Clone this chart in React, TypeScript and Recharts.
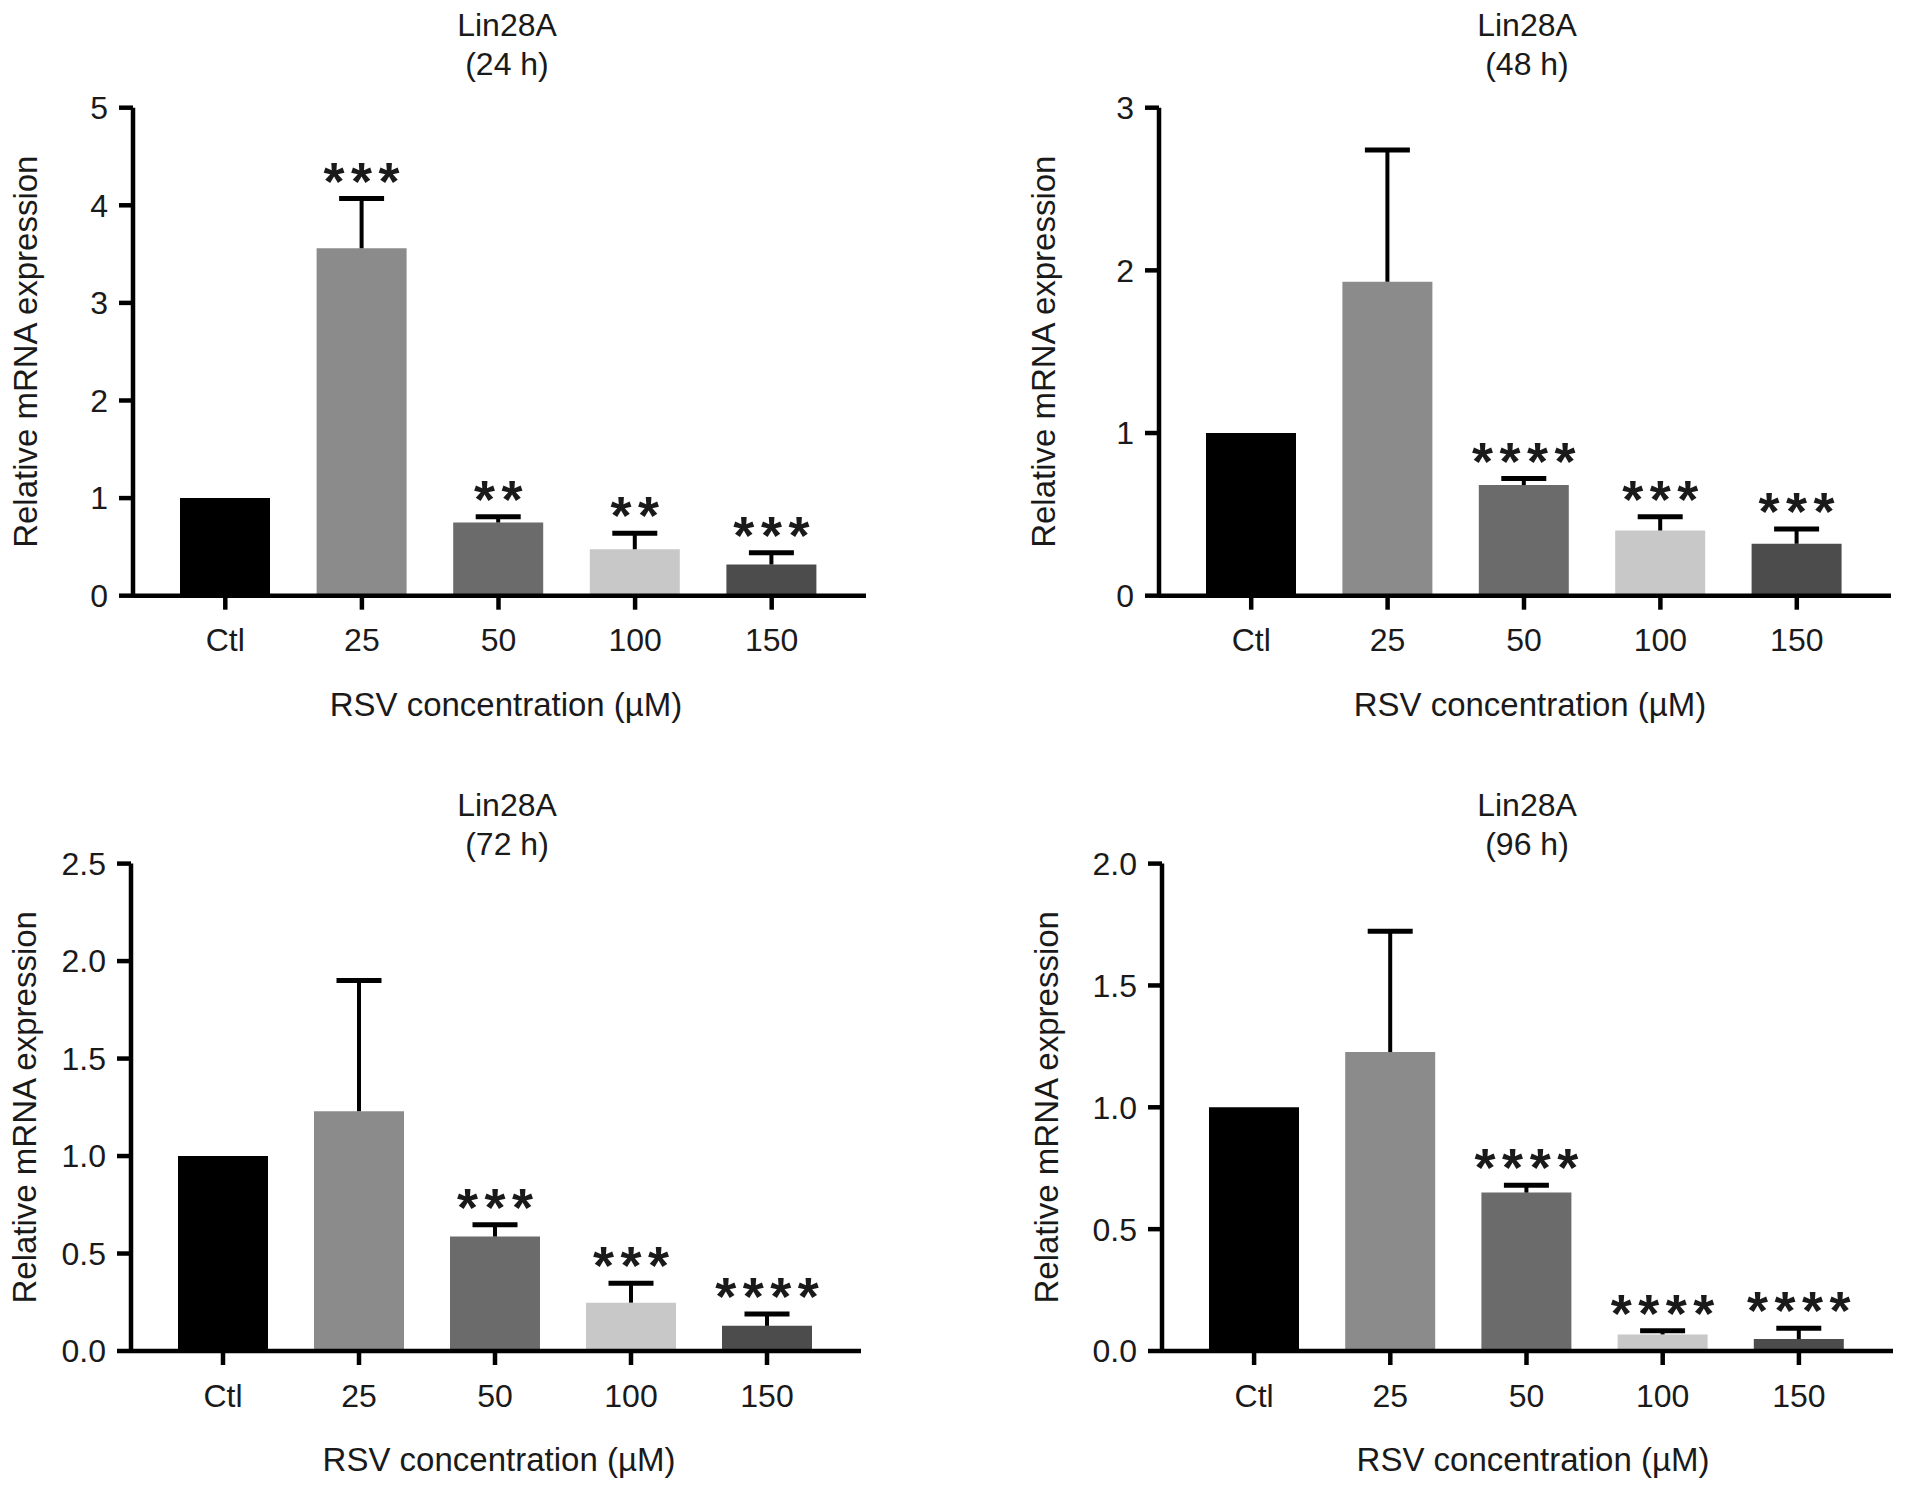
import React from 'react';
import { ComposedChart, Bar, XAxis, YAxis, Cell, LabelList } from 'recharts';

// ---------- data ----------
const categories = ['Ctl', '25', '50', '100', '150'];

const mean24 = [1.0, 3.56, 0.75, 0.475, 0.32];
const err24 = [0, 0.51, 0.06, 0.165, 0.12];
const stars24 = ['', '***', '**', '**', '***'];
const ticks24 = [0, 1, 2, 3, 4, 5];

const mean48 = [1.0, 1.93, 0.68, 0.4, 0.32];
const err48 = [0, 0.81, 0.04, 0.085, 0.09];
const stars48 = ['', '', '****', '***', '***'];
const ticks48 = [0, 1, 2, 3];

const mean72 = [1.0, 1.23, 0.587, 0.248, 0.129];
const err72 = [0, 0.67, 0.061, 0.099, 0.061];
const stars72 = ['', '', '***', '***', '****'];
const ticks72 = [0, 0.5, 1.0, 1.5, 2.0, 2.5];

const mean96 = [1.0, 1.227, 0.65, 0.068, 0.049];
const err96 = [0, 0.495, 0.03, 0.015, 0.044];
const stars96 = ['', '', '****', '****', '****'];
const ticks96 = [0, 0.5, 1.0, 1.5, 2.0];

const barColors = ['#000000', '#8b8b8b', '#6b6b6b', '#c8c8c8', '#4c4c4c'];

const titleText = 'Lin28A';
const yLabelText = 'Relative mRNA expression';
const xLabelText = 'RSV concentration (\u00b5M)';

// ---------- styles ----------
const FONT = '"Liberation Sans", Arial, Helvetica, sans-serif';
const TEXT = '#1a1a1a';
const AXIS_W = 133;
const XAXIS_H = 140;

const build = (means: number[], errs: number[], stars: string[]) =>
  categories.map((c, i) => ({ cat: c, mean: means[i], err: errs[i], stars: stars[i] }));

const ErrShape = (props: any) => {
  const { x, y, width, height } = props;
  if (!height || height <= 0) return <g />;
  const cx = x + width / 2;
  return (
    <g>
      <line x1={cx} x2={cx} y1={y + height} y2={y} stroke="#000" strokeWidth={4} />
      <line x1={cx - 22.5} x2={cx + 22.5} y1={y} y2={y} stroke="#000" strokeWidth={5} />
    </g>
  );
};

const StarLabel = (props: any) => {
  const vb = props.viewBox || props;
  const x = props.x ?? vb.x;
  const y = props.y ?? vb.y;
  const width = props.width ?? vb.width;
  const value = props.value;
  if (!value) return null;
  const fs = 54;
  const ls = 6.5;
  return (
    <text
      x={x + width / 2 + ls / 2}
      y={y - 23 + fs * 0.446}
      textAnchor="middle"
      fontSize={fs}
      fontWeight="bold"
      fontFamily={FONT}
      fill={TEXT}
      letterSpacing={ls}
    >
      {value}
    </text>
  );
};

type PanelCfg = {
  plotLeft: number;
  plotRight: number;
  chartTop: number;
  plotTop: number;
  plotBottom: number;
  titleX: number;
  titleY: number;
  xLabelX: number;
  yLabelOffset: number;
  hours: string;
  means: number[];
  errs: number[];
  stars: string[];
  ticks: number[];
  decimals: number;
};

const Panel = ({ cfg }: { cfg: PanelCfg }) => {
  const data = build(cfg.means, cfg.errs, cfg.stars);
  const chartLeft = cfg.plotLeft - AXIS_W;
  const marginTop = cfg.plotTop - cfg.chartTop;
  const plotW = cfg.plotRight - cfg.plotLeft;
  const plotH = cfg.plotBottom - cfg.plotTop;
  const width = AXIS_W + plotW + 20;
  const height = marginTop + plotH + XAXIS_H;
  const domainMax = cfg.ticks[cfg.ticks.length - 1];

  const xLabel = (p: any) => {
    const vb = p.viewBox || {};
    return (
      <g>
        <text
          x={cfg.xLabelX - chartLeft}
          y={vb.y + 120}
          textAnchor="middle"
          fontSize={33}
          fontFamily={FONT}
          fill={TEXT}
        >
          {xLabelText}
        </text>
        <text
          x={cfg.titleX - chartLeft}
          y={cfg.titleY - cfg.chartTop}
          textAnchor="middle"
          fontSize={32}
          fontFamily={FONT}
          fill={TEXT}
        >
          {titleText}
        </text>
        <text
          x={cfg.titleX - chartLeft}
          y={cfg.titleY - cfg.chartTop + 39}
          textAnchor="middle"
          fontSize={32}
          fontFamily={FONT}
          fill={TEXT}
        >
          {`(${cfg.hours} h)`}
        </text>
      </g>
    );
  };

  const yLabel = (p: any) => {
    const vb = p.viewBox || {};
    const x = vb.x + vb.width - cfg.yLabelOffset;
    const y = vb.y + vb.height / 2;
    return (
      <text
        x={x}
        y={y}
        transform={`rotate(-90 ${x} ${y})`}
        textAnchor="middle"
        fontSize={33}
        fontFamily={FONT}
        fill={TEXT}
      >
        {yLabelText}
      </text>
    );
  };

  return (
    <div style={{ position: 'absolute', left: chartLeft, top: cfg.chartTop, width, height }}>
      <ComposedChart
        width={width}
        height={height}
        data={data}
        margin={{ top: marginTop, right: 20, bottom: 0, left: 0 }}
      >
        <XAxis
          dataKey="cat"
          type="category"
          interval={0}
          height={XAXIS_H}
          padding={{ left: 24, right: 26 }}
          axisLine={{ stroke: '#000', strokeWidth: 4.5 }}
          tickLine={{ stroke: '#000', strokeWidth: 4.5 }}
          tickSize={14}
          tickMargin={19}
          tick={{ fill: TEXT, fontSize: 32, fontFamily: FONT }}
          label={xLabel}
        />
        <YAxis
          type="number"
          width={AXIS_W}
          domain={[0, domainMax]}
          ticks={cfg.ticks}
          interval={0}
          allowDataOverflow
          axisLine={{ stroke: '#000', strokeWidth: 4.5 }}
          tickLine={{ stroke: '#000', strokeWidth: 4.5 }}
          tickSize={14}
          tickMargin={11}
          tick={{ fill: TEXT, fontSize: 32, fontFamily: FONT }}
          tickFormatter={(v: number) => v.toFixed(cfg.decimals)}
          label={yLabel}
        />
        <Bar dataKey="mean" stackId="s" barSize={90} isAnimationActive={false}>
          {data.map((d, i) => (
            <Cell key={d.cat} fill={barColors[i]} />
          ))}
        </Bar>
        <Bar
          dataKey="err"
          stackId="s"
          barSize={90}
          fill="transparent"
          shape={ErrShape}
          isAnimationActive={false}
        >
          <LabelList dataKey="stars" content={StarLabel} />
        </Bar>
      </ComposedChart>
    </div>
  );
};

const panels: PanelCfg[] = [
  {
    plotLeft: 133, plotRight: 866, chartTop: 0, plotTop: 107.7, plotBottom: 595.7,
    titleX: 507, titleY: 36, xLabelX: 506, yLabelOffset: 96, hours: '24',
    means: mean24, errs: err24, stars: stars24, ticks: ticks24, decimals: 0,
  },
  {
    plotLeft: 1159, plotRight: 1891, chartTop: 0, plotTop: 107.7, plotBottom: 595.7,
    titleX: 1527, titleY: 36, xLabelX: 1530, yLabelOffset: 104, hours: '48',
    means: mean48, errs: err48, stars: stars48, ticks: ticks48, decimals: 0,
  },
  {
    plotLeft: 131, plotRight: 861, chartTop: 750, plotTop: 863.6, plotBottom: 1351,
    titleX: 507, titleY: 815.5, xLabelX: 499, yLabelOffset: 95, hours: '72',
    means: mean72, errs: err72, stars: stars72, ticks: ticks72, decimals: 1,
  },
  {
    plotLeft: 1162, plotRight: 1893, chartTop: 750, plotTop: 863.6, plotBottom: 1351,
    titleX: 1527, titleY: 815.5, xLabelX: 1533, yLabelOffset: 104, hours: '96',
    means: mean96, errs: err96, stars: stars96, ticks: ticks96, decimals: 1,
  },
];

export default function App() {
  return (
    <div
      style={{
        position: 'absolute',
        left: 0,
        top: 0,
        width: 1913,
        height: 1492,
        background: '#ffffff',
        overflow: 'hidden',
      }}
    >
      {panels.map((p) => (
        <Panel key={p.hours} cfg={p} />
      ))}
    </div>
  );
}
